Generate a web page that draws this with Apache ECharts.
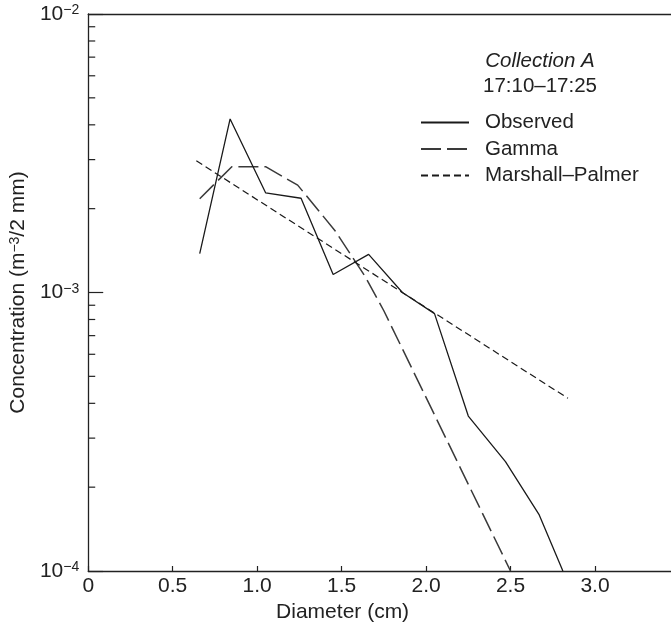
<!DOCTYPE html>
<html>
<head>
<meta charset="utf-8">
<script src="https://cdn.jsdelivr.net/npm/echarts@6/dist/echarts.min.js"></script>
<style>
  html, body { margin: 0; padding: 0; background: #fff; }
  #chart { width: 671px; height: 628px; }
</style>
</head>
<body>
<div id="chart"></div>
<script>
// Drop-size spectra, Collection A (17:10–17:25)
const observedD = [0.66, 0.84, 1.05, 1.26, 1.45, 1.66, 1.86, 2.05, 2.25, 2.47, 2.67, 2.81];
const observedN = [1.38e-3, 4.2e-3, 2.28e-3, 2.18e-3, 1.16e-3, 1.37e-3, 1.0e-3, 8.4e-4, 3.6e-4, 2.47e-4, 1.59e-4, 1.0e-4];

const gammaD = [0.66, 0.85, 1.05, 1.24, 1.46, 1.64, 1.75, 2.5];
const gammaN = [2.17e-3, 2.83e-3, 2.83e-3, 2.43e-3, 1.67e-3, 1.14e-3, 8.6e-4, 1.0e-4];

const marshallPalmerD = [0.64, 2.84];
const marshallPalmerN = [2.97e-3, 4.17e-4];

// Axis ticks
const xTicks = [0, 0.5, 1.0, 1.5, 2.0, 2.5, 3.0];
const yMinorTicks = [2e-4, 3e-4, 4e-4, 5e-4, 6e-4, 7e-4, 8e-4, 9e-4,
                     2e-3, 3e-3, 4e-3, 5e-3, 6e-3, 7e-3, 8e-3, 9e-3];

const seriesNames = ['Observed', 'Gamma', 'Marshall–Palmer'];
const titleLines = ['Collection A', '17:10–17:25'];

const FONT = "'Liberation Sans', Arial, Helvetica, sans-serif";
const INK = '#222';

const pairs = (xs, ys) => xs.map((x, i) => [x, ys[i]]);

const chart = echarts.init(document.getElementById('chart'), null, { renderer: 'canvas' });

chart.setOption({
  animation: false,
  backgroundColor: '#fff',
  textStyle: { fontFamily: FONT, color: INK },
  grid: { left: 84, right: 0, top: 14, bottom: 57, containLabel: false },
  xAxis: [{
    type: 'value',
    min: 0, max: 3.45, interval: 0.5,
    position: 'bottom',
    axisLine: { show: true, onZero: false, lineStyle: { color: INK, width: 1.3 } },
    axisTick: { show: true, inside: true, length: 5, lineStyle: { color: INK, width: 1.2 } },
    axisLabel: {
      margin: 5, fontSize: 21, color: INK, fontFamily: FONT,
      showMaxLabel: false,
      formatter: v => (xTicks.indexOf(v) < 0 ? '' : (v === 0 ? '0' : v.toFixed(1)))
    },
    splitLine: { show: false },
    name: 'Diameter (cm)',
    nameLocation: 'middle',
    nameGap: 28,
    nameTextStyle: { fontSize: 21, color: INK, fontFamily: FONT, padding: [0, 74, 0, 0] }
  }, {
    type: 'value',
    min: 0, max: 3.45,
    position: 'top',
    axisLine: { show: true, onZero: false, lineStyle: { color: INK, width: 1.3 } },
    axisTick: { show: false },
    axisLabel: { show: false },
    splitLine: { show: false }
  }],
  yAxis: [{
    type: 'log',
    logBase: 10,
    min: 1e-4, max: 1e-2,
    position: 'left',
    axisLine: { show: true, onZero: false, lineStyle: { color: INK, width: 1.3 } },
    axisTick: { show: true, inside: true, length: 15, lineStyle: { color: INK, width: 1.2 } },
    splitLine: { show: false },
    axisLabel: {
      margin: 9,
      formatter: v => '{b|10}{s|−' + (-Math.round(Math.log10(v))) + '}',
      rich: {
        b: { fontSize: 21, color: INK, fontFamily: FONT },
        s: { fontSize: 14, color: INK, fontFamily: FONT, verticalAlign: 'top' }
      }
    },
    name: '{n|Concentration (m}{s|−3}{n|/2 mm)}',
    nameLocation: 'middle',
    nameGap: 48,
    nameRotate: 90,
    nameTextStyle: {
      rich: {
        n: { fontSize: 21, color: INK, fontFamily: FONT },
        s: { fontSize: 14, color: INK, fontFamily: FONT, verticalAlign: 'top' }
      }
    }
  }],
  legend: {
    orient: 'vertical',
    left: 415,
    top: 107,
    itemWidth: 48,
    itemHeight: 14,
    itemGap: 5.5,
    selectedMode: false,
    data: seriesNames,
    itemStyle: { opacity: 0 },
    textStyle: { fontSize: 20.5, color: INK, fontFamily: FONT, lineHeight: 21, padding: [0, 0, 0, 11] }
  },
  graphic: [{
    type: 'text',
    x: 540, y: 61.7,
    style: {
      text: titleLines[0], fill: INK,
      font: 'italic 20.5px ' + FONT,
      align: 'center', verticalAlign: 'middle'
    }
  }, {
    type: 'text',
    x: 540, y: 86.7,
    style: {
      text: titleLines[1], fill: INK,
      font: '20.5px ' + FONT,
      align: 'center', verticalAlign: 'middle'
    }
  }],
  series: [{
    name: seriesNames[0],
    type: 'line',
    data: pairs(observedD, observedN),
    symbol: 'none',
    lineStyle: { color: '#1a1a1a', width: 1.3, type: 'solid' },
    itemStyle: { color: '#1a1a1a' },
    z: 3
  }, {
    name: seriesNames[1],
    type: 'line',
    data: pairs(gammaD, gammaN),
    symbol: 'none',
    lineStyle: { color: '#3a3a3a', width: 1.5, type: [20, 6] },
    itemStyle: { color: '#3a3a3a' },
    z: 2
  }, {
    name: seriesNames[2],
    type: 'line',
    data: pairs(marshallPalmerD, marshallPalmerN),
    symbol: 'none',
    lineStyle: { color: '#1a1a1a', width: 1.2, type: [7, 4] },
    itemStyle: { color: '#1a1a1a' },
    z: 2
  }, {
    // minor ticks of the logarithmic axis, placed through the axis scale
    name: 'yMinorTicks',
    type: 'custom',
    silent: true,
    clip: false,
    data: yMinorTicks.map(v => [0, v]),
    renderItem: (params, api) => {
      const p = api.coord([0, api.value(1)]);
      return {
        type: 'line',
        shape: { x1: p[0], y1: p[1], x2: p[0] + 7, y2: p[1] },
        style: { stroke: INK, lineWidth: 1.2 }
      };
    },
    z: 4
  }]
});
</script>
</body>
</html>
